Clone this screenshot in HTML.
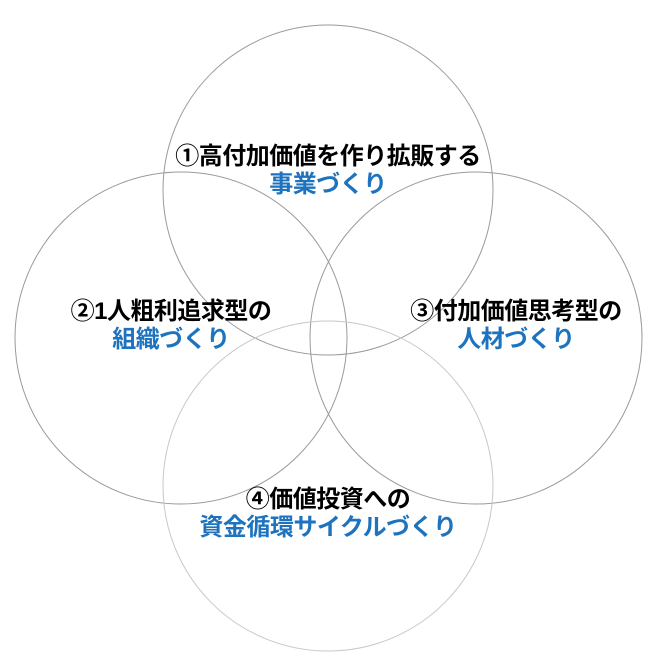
<!DOCTYPE html>
<html><head><meta charset="utf-8"><style>
body{margin:0;background:#fff;width:662px;height:671px;overflow:hidden}
svg{position:absolute;left:0;top:0}
.t{position:absolute;font-family:"Liberation Sans","Noto Sans CJK JP",sans-serif;font-weight:bold;font-size:24px;letter-spacing:-0.5px;line-height:28px;text-align:center;white-space:nowrap;transform:translateX(-50%)}
.b{color:#1e73be}
</style></head><body>
<svg width="662" height="671">
<g fill="none" stroke="#9a9a9a" stroke-width="1">
<circle cx="328" cy="190" r="165"/>
<circle cx="181" cy="338" r="166"/>
<circle cx="476" cy="338" r="166"/>
<circle cx="328" cy="486" r="165" stroke="#c8c8c8"/>
</g>
</svg>
<div class="t" style="left:328px;top:143px">①高付加価値を作り拡販する<br><span class="b">事業づくり</span></div>
<div class="t" style="left:171px;top:298px">②1人粗利追求型の<br><span class="b">組織づくり</span></div>
<div class="t" style="left:516px;top:298px">③付加価値思考型の<br><span class="b">人材づくり</span></div>
<div class="t" style="left:328px;top:486px">④価値投資への<br><span class="b">資金循環サイクルづくり</span></div>
</body></html>
